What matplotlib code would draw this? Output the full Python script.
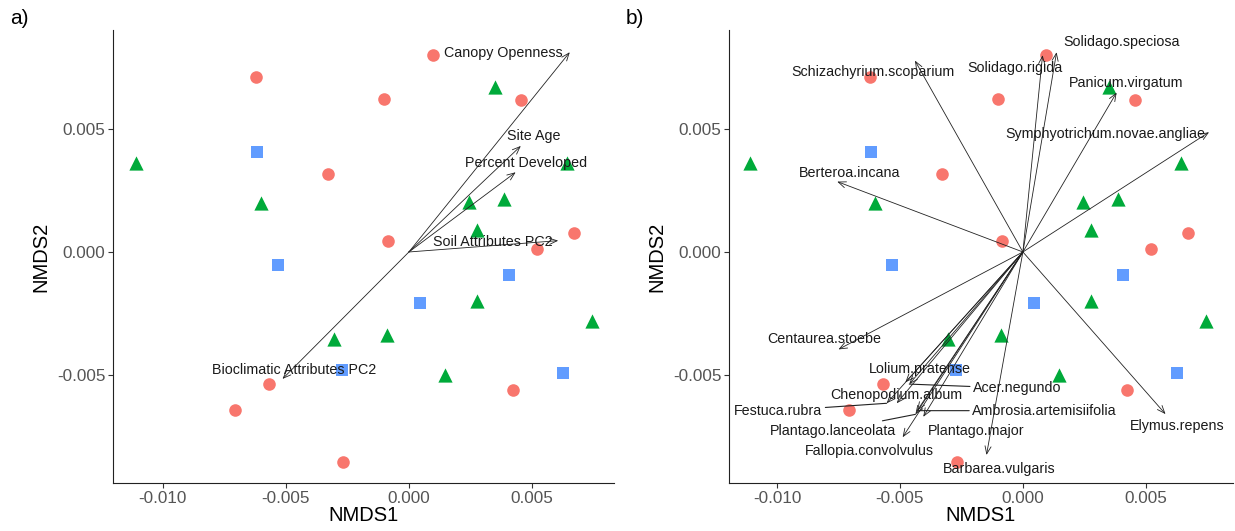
import numpy as np
import matplotlib
matplotlib.use("Agg")
import matplotlib.pyplot as plt

plt.rcParams["font.family"] = ["Liberation Sans", "DejaVu Sans"]
plt.rcParams["axes.unicode_minus"] = False

# site scores (same ordination in both panels)
circ_x = [0.00096, -0.0062, -0.00101, 0.00455, -0.0033, -0.00085, 0.0067, 0.0052,
          -0.0057, -0.00707, 0.00423, -0.00267]
circ_y = [0.0080, 0.0071, 0.0062, 0.00617, 0.00316, 0.00043, 0.00076, 0.00011,
          -0.00535, -0.00644, -0.0056, -0.00854]
tri_x = [-0.0111, 0.00349, -0.00603, 0.00246, 0.00388, 0.00278, 0.00644, 0.00278,
         0.00744, -0.00303, -0.00089, 0.00147]
tri_y = [0.0036, 0.0067, 0.0020, 0.00203, 0.00214, 0.00089, 0.0036, -0.00199,
         -0.0028, -0.00352, -0.00336, -0.00501]
sq_x = [-0.00617, -0.00532, 0.00407, 0.00044, -0.00272, 0.00628]
sq_y = [0.00405, -0.00053, -0.00093, -0.00209, -0.0048, -0.00493]

# panel a: environmental vectors
env_names = ["Canopy Openness", "Site Age", "Percent Developed",
             "Soil Attributes PC2", "Bioclimatic Attributes PC2"]
env_x = [0.00654, 0.00455, 0.00434, 0.00607, -0.00514]
env_y = [0.00812, 0.00431, 0.00324, 0.00046, -0.00516]
env_lab_x = [0.00383, 0.00508, 0.00478, 0.0034, -0.00466]
env_lab_y = [0.0081, 0.00473, 0.00363, 0.00042, -0.0048]

# panel b: species vectors
sp_names = ["Schizachyrium.scoparium", "Solidago.rigida", "Solidago.speciosa",
            "Panicum.virgatum", "Symphyotrichum.novae.angliae", "Berteroa.incana",
            "Centaurea.stoebe", "Lolium.pratense", "Acer.negundo", "Chenopodium.album",
            "Festuca.rubra", "Ambrosia.artemisiifolia", "Plantago.lanceolata",
            "Plantago.major", "Fallopia.convolvulus", "Barbarea.vulgaris", "Elymus.repens"]
sp_x = [-0.00439, 0.0008, 0.00137, 0.00381, 0.00757, -0.00755, -0.0075, -0.00478,
        -0.00462, -0.00513, -0.00554, -0.0043, -0.00437, -0.00405, -0.00489, -0.00148, 0.0058]
sp_y = [0.00778, 0.0080, 0.00812, 0.00648, 0.00487, 0.00286, -0.00396, -0.0053,
        -0.00537, -0.00615, -0.00615, -0.00645, -0.0066, -0.0067, -0.00753, -0.00825, -0.00659]
sp_lab_x = [-0.0061, -0.00033, 0.00402, 0.00419, 0.00335, -0.00703, -0.00807, -0.0042,
            -0.00024, -0.00516, -0.00994, 0.00087, -0.00774, -0.00191, -0.00626, -0.00098, 0.00629]
sp_lab_y = [0.00733, 0.00747, 0.00852, 0.00688, 0.00478, 0.00322, -0.00355, -0.00476,
            -0.00554, -0.0058, -0.00645, -0.00645, -0.00726, -0.00726, -0.00809, -0.00882, -0.00706]
sp_repel = [False, False, False, False, False, False, False, False,
            True, False, True, True, True, False, False, False, False]

RED, GREEN, BLUE = "#F8766D", "#00AA3A", "#619CFF"
ARROW = dict(arrowstyle="->,head_length=0.55,head_width=0.22", lw=0.6,
             color="#222222", shrinkA=0, shrinkB=0)
LAB_FS = 10.3

fig = plt.figure(figsize=(12.35, 5.31), dpi=100)
ax_a = fig.add_axes([0.0915, 0.0904, 0.4055, 0.853])
ax_b = fig.add_axes([0.5903, 0.0904, 0.4080, 0.853])


def draw_sites(ax):
    ax.scatter(circ_x, circ_y, marker="o", s=82, color=RED, linewidths=0, zorder=2)
    ax.scatter(tri_x, tri_y, marker="^", s=105, color=GREEN, linewidths=0, zorder=2)
    ax.scatter(sq_x, sq_y, marker="s", s=72, color=BLUE, linewidths=0, zorder=2)


def style(ax, xlim):
    ax.set_xlim(*xlim)
    ax.set_ylim(-0.00939, 0.00902)
    ax.set_xticks([-0.010, -0.005, 0.000, 0.005])
    ax.set_yticks([-0.005, 0.000, 0.005])
    ax.xaxis.set_major_formatter(matplotlib.ticker.FormatStrFormatter("%.3f"))
    ax.yaxis.set_major_formatter(matplotlib.ticker.FormatStrFormatter("%.3f"))
    for s in ["top", "right"]:
        ax.spines[s].set_visible(False)
    for s in ["left", "bottom"]:
        ax.spines[s].set_linewidth(0.8)
        ax.spines[s].set_color("#222222")
    ax.tick_params(length=3.5, width=0.8, color="#333333", labelcolor="#555555",
                   labelsize=12.3, pad=2)
    ax.set_xlabel("NMDS1", fontsize=14.5, labelpad=0)
    ax.set_ylabel("NMDS2", fontsize=14.5, labelpad=5)


# panel a
draw_sites(ax_a)
for x, y in zip(env_x, env_y):
    ax_a.annotate("", xy=(x, y), xytext=(0, 0), arrowprops=ARROW, zorder=3)
for name, lx, ly in zip(env_names, env_lab_x, env_lab_y):
    ax_a.text(lx, ly, name, fontsize=LAB_FS, ha="center", va="center",
              color="#1a1a1a", zorder=4)
style(ax_a, (-0.01203, 0.00833))

# panel b
draw_sites(ax_b)
for x, y in zip(sp_x, sp_y):
    ax_b.annotate("", xy=(x, y), xytext=(0, 0), arrowprops=ARROW, zorder=3)
for name, x, y, lx, ly, rep in zip(sp_names, sp_x, sp_y, sp_lab_x, sp_lab_y, sp_repel):
    if rep:
        ax_b.annotate(name, xy=(x, y), xytext=(lx, ly), fontsize=LAB_FS,
                      ha="center", va="center", color="#1a1a1a", zorder=4,
                      arrowprops=dict(arrowstyle="-", lw=0.8, color="#222222",
                                      shrinkA=0, shrinkB=0))
    else:
        ax_b.text(lx, ly, name, fontsize=LAB_FS, ha="center", va="center",
                  color="#1a1a1a", zorder=4)
style(ax_b, (-0.01195, 0.00854))

fig.text(0.008, 0.965, "a)", fontsize=15, va="center", ha="left")
fig.text(0.507, 0.965, "b)", fontsize=15, va="center", ha="left")

fig.savefig("out.png", dpi=100)
